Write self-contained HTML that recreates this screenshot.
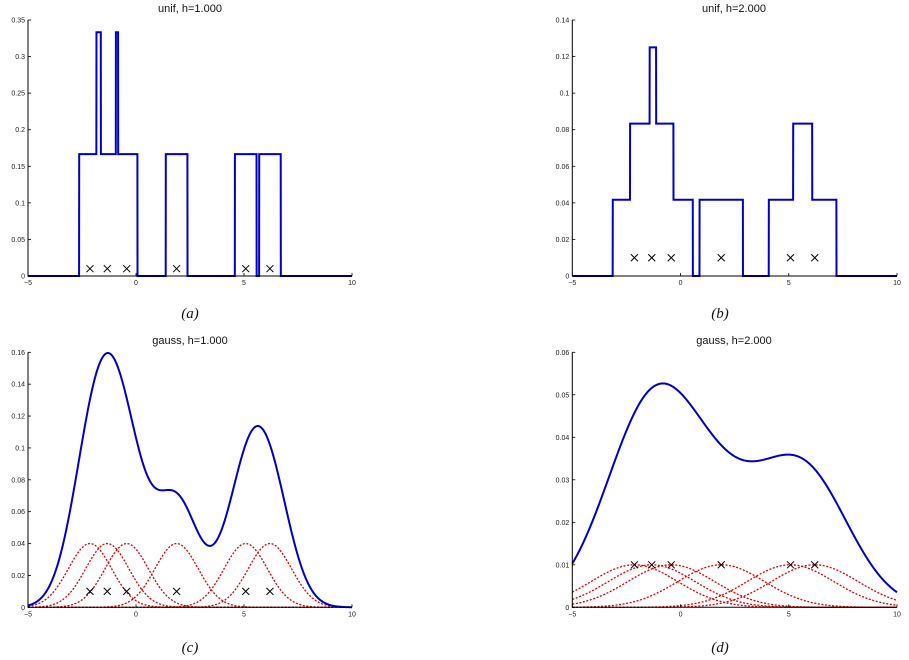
<!DOCTYPE html>
<html><head><meta charset="utf-8"><style>
html,body{margin:0;padding:0;background:#fff;}
svg{display:block;font-family:"Liberation Sans",sans-serif;}
.t{font-size:7px;fill:#222}
.ti{font-size:11px;fill:#111}
.lab{font-family:"Liberation Serif",serif;font-style:italic;font-size:15px;fill:#111}
</style></head><body>
<svg id="s" width="909" height="660" viewBox="0 0 909 660">
<text class="ti" x="190" y="12" text-anchor="middle">unif, h=1.000</text>
<text class="ti" x="734" y="12" text-anchor="middle">unif, h=2.000</text>
<text class="ti" x="190" y="344" text-anchor="middle">gauss, h=1.000</text>
<text class="ti" x="734" y="344" text-anchor="middle">gauss, h=2.000</text>
<text class="lab" x="190" y="318" text-anchor="middle">(a)</text>
<text class="lab" x="720" y="318" text-anchor="middle">(b)</text>
<text class="lab" x="190" y="652" text-anchor="middle">(c)</text>
<text class="lab" x="720" y="652" text-anchor="middle">(d)</text>
<g id="g"></g>
</svg>
<script>
var NS="http://www.w3.org/2000/svg",g=document.getElementById("g");
function el(n,a,txt){var e=document.createElementNS(NS,n);for(var k in a)e.setAttribute(k,a[k]);if(txt!=null)e.textContent=txt;g.appendChild(e);return e;}
var pts=[-2.13,-1.33,-0.43,1.88,5.08,6.2];
function panel(P){
 var X=function(x){return P.x0+(x+5)/15*(P.x1-P.x0)};
 var Y=function(y){return P.y0-y/P.ymax*(P.y0-P.y1)};
 // content
 P.draw(X,Y);
 // axes
 el("path",{d:"M"+P.x0+" "+P.y1+"V"+P.y0+"H"+P.x1,stroke:"#000","stroke-width":1,fill:"none"});
 P.yt.forEach(function(v){var y=Y(v);el("path",{d:"M"+P.x0+" "+y+"h3",stroke:"#000","stroke-width":0.8});
  el("text",{class:"t",x:P.x0-3,y:y+2.5,"text-anchor":"end"},P.fmt(v));});
 [-5,0,5,10].forEach(function(v){var x=X(v);el("path",{d:"M"+x+" "+P.y0+"v-3",stroke:"#000","stroke-width":0.8});
  el("text",{class:"t",x:x,y:P.y0+9,"text-anchor":"middle"},v===-5?"\u22125":String(v));});
 // markers
 pts.forEach(function(p){var x=X(p),y=Y(0.01),r=3.5;el("path",{d:"M"+(x-r)+" "+(y-r)+"L"+(x+r)+" "+(y+r)+"M"+(x-r)+" "+(y+r)+"L"+(x+r)+" "+(y-r),stroke:"#000","stroke-width":1});});
}
function unif(hw,ht){return function(X,Y){
 var d="",N=3000;for(var i=0;i<=N;i++){var x=-5+15*i/N,s=0;pts.forEach(function(p){if(Math.abs(x-p)<=hw)s+=ht;});
 d+=(i?"L":"M")+X(x).toFixed(2)+" "+Y(s).toFixed(2);}
 el("path",{d:d,stroke:"#0000cc","stroke-width":2,fill:"none"});};}
function gauss(sg,k,rp){return function(X,Y){
 pts.forEach(function(p){var d="";for(var i=0;i<=300;i++){var x=-5+15*i/300;var v=rp*Math.exp(-(x-p)*(x-p)/(2*sg*sg));d+=(i?"L":"M")+X(x).toFixed(2)+" "+Y(v).toFixed(2);}
  el("path",{d:d,stroke:"#e00000","stroke-width":1.3,fill:"none","stroke-dasharray":"2,1.6"});});
 var d="";for(var i=0;i<=600;i++){var x=-5+15*i/600,s=0;pts.forEach(function(p){s+=Math.exp(-(x-p)*(x-p)/(2*sg*sg));});
  d+=(i?"L":"M")+X(x).toFixed(2)+" "+Y(k*s).toFixed(2);}
 el("path",{d:d,stroke:"#0000cc","stroke-width":2,fill:"none"});};}
function f2(v){return v===0?"0":String(+v.toFixed(2)).replace(/^0/,"0");}
panel({x0:28,x1:352,y0:276,y1:20,ymax:0.35,yt:[0,0.05,0.1,0.15,0.2,0.25,0.3,0.35],fmt:f2,draw:unif(0.5,1/6)});
panel({x0:572.3,x1:897,y0:276,y1:20,ymax:0.14,yt:[0,0.02,0.04,0.06,0.08,0.1,0.12,0.14],fmt:f2,draw:unif(1,1/24)});
panel({x0:28,x1:352,y0:607.3,y1:352.3,ymax:0.16,yt:[0,0.02,0.04,0.06,0.08,0.1,0.12,0.14,0.16],fmt:f2,draw:gauss(1,0.0665,0.04)});
panel({x0:572.3,x1:897,y0:607.3,y1:352.3,ymax:0.06,yt:[0,0.01,0.02,0.03,0.04,0.05,0.06],fmt:f2,draw:gauss(2,0.0166,0.01)});
</script>
</body></html>
